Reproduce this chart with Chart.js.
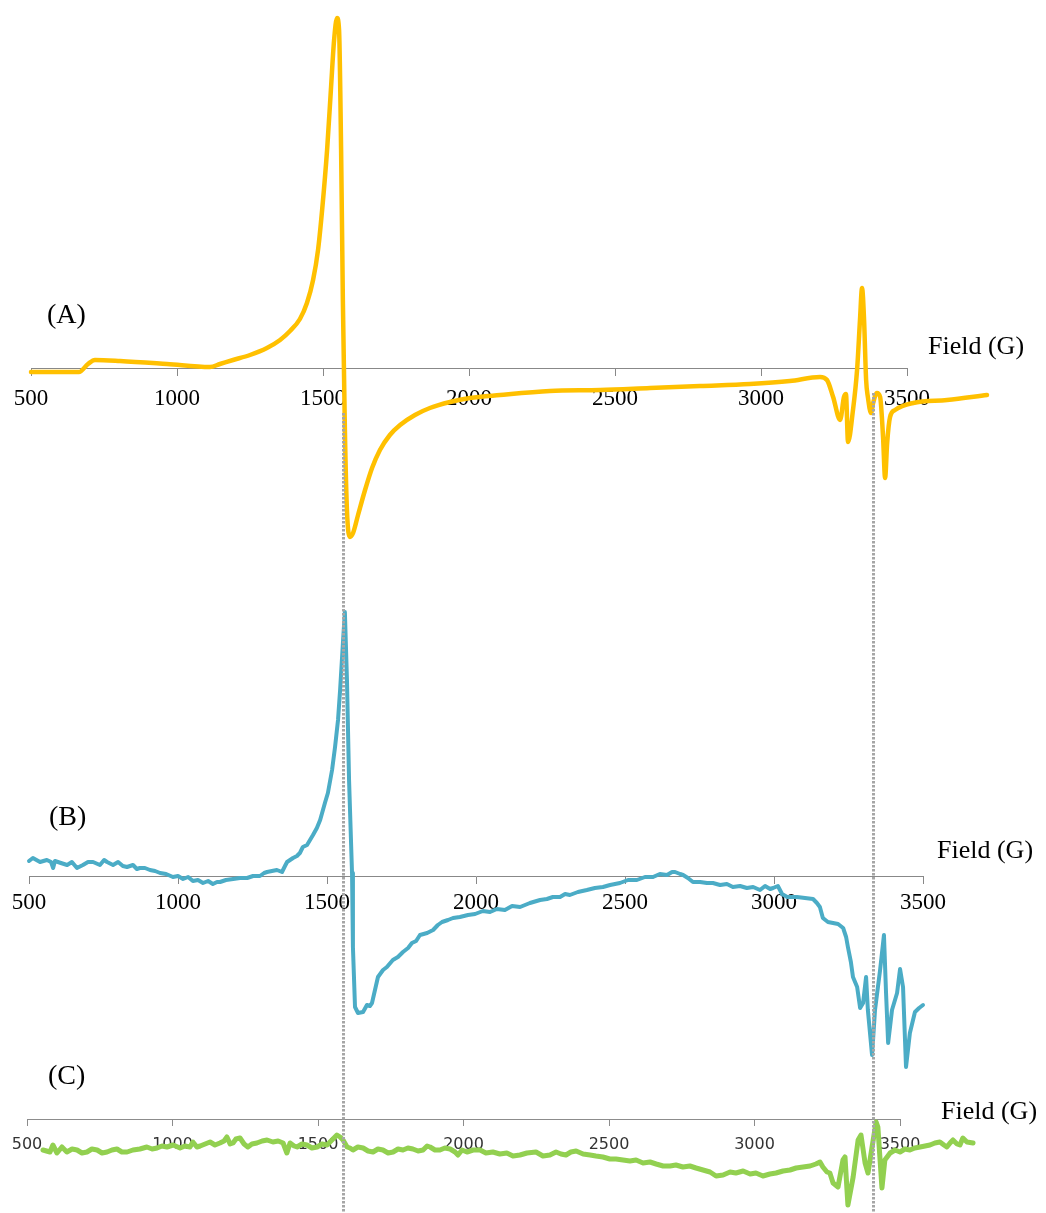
<!DOCTYPE html>
<html>
<head>
<meta charset="utf-8">
<title>EPR spectra A, B, C</title>
<script src="https://cdn.jsdelivr.net/npm/chart.js@4.4.0/dist/chart.umd.min.js"></script>
<style>
  body { margin: 0; background: #ffffff; }
  #wrap { position: relative; width: 1046px; height: 1213px; }
  #wrap canvas { position: absolute; left: 0; top: 0; }
</style>
</head>
<body>
<div id="wrap">
  <canvas id="chartA" width="1046" height="1213"></canvas>
  <canvas id="chartB" width="1046" height="1213"></canvas>
  <canvas id="chartC" width="1046" height="1213"></canvas>
</div>
<script>
// Field axis ticks (G), shared by the three spectra
const fieldTicks = [500, 1000, 1500, 2000, 2500, 3000, 3500];
const panelLabels = ["(A)", "(B)", "(C)"];
const axisTitle = "Field (G)";
// dotted guide lines, field values read on the (C) axis
const guideFields = [1586, 3407];

// Spectrum A (yellow)
const fieldA = [500, 664, 695, 719, 805, 966, 1113, 1147, 1192, 1250,
  1308, 1353, 1387, 1421, 1445, 1466, 1483, 1497, 1514, 1527,
  1538, 1548, 1555, 1562, 1568, 1575, 1582, 1592, 1603, 1620,
  1644, 1668, 1695, 1729, 1764, 1815, 1866, 1935, 2003, 2106,
  2277, 2449, 2620, 2791, 2962, 3099, 3202, 3226, 3247, 3271,
  3284, 3291, 3298, 3315, 3329, 3339, 3346, 3353, 3360, 3366,
  3377, 3384, 3397, 3408, 3418, 3425, 3432, 3442, 3459, 3521,
  3637, 3774];
const signalA = [-3, -3, 5, 9, 8, 5, 2, 5, 9, 14,
  21, 29, 38, 50, 66, 89, 119, 159, 219, 279,
  329, 351, 339, 219, 69, -61, -141, -168, -164, -146,
  -121, -99, -81, -66, -56, -46, -39, -33, -29, -26,
  -22, -21, -19, -17, -15, -12, -8, -11, -28, -51,
  -28, -25, -73, -41, -1, 49, 81, 49, -11, -28,
  -44, -34, -24, -28, -68, -109, -74, -48, -41, -34,
  -31, -26];

// Spectrum B (blue)
const fieldB = [500, 513, 537, 560, 574, 581, 587, 607, 628, 644,
  661, 681, 698, 715, 738, 752, 762, 782, 799, 815,
  829, 849, 862, 872, 889, 906, 923, 940, 960, 983,
  1000, 1017, 1034, 1050, 1067, 1084, 1101, 1117, 1131, 1141,
  1161, 1185, 1208, 1232, 1252, 1275, 1289, 1299, 1315, 1332,
  1349, 1359, 1366, 1376, 1386, 1399, 1409, 1419, 1433, 1443,
  1453, 1466, 1477, 1493, 1503, 1517, 1527, 1537, 1544, 1554,
  1560, 1567, 1574, 1584, 1587, 1594, 1604, 1621, 1634, 1644,
  1651, 1661, 1671, 1688, 1701, 1721, 1738, 1755, 1772, 1785,
  1799, 1812, 1836, 1856, 1872, 1886, 1906, 1923, 1946, 1973,
  1997, 2023, 2047, 2070, 2097, 2121, 2148, 2181, 2215, 2238,
  2258, 2282, 2299, 2315, 2342, 2372, 2399, 2426, 2450, 2483,
  2510, 2540, 2567, 2594, 2617, 2641, 2658, 2668, 2685, 2695,
  2711, 2728, 2752, 2775, 2795, 2819, 2842, 2862, 2886, 2909,
  2930, 2953, 2970, 2987, 2997, 3013, 3027, 3044, 3077, 3104,
  3131, 3144, 3154, 3164, 3181, 3198, 3215, 3232, 3242, 3248,
  3258, 3265, 3279, 3289, 3299, 3309, 3315, 3329, 3339, 3356,
  3369, 3376, 3383, 3396, 3413, 3423, 3433, 3443, 3456, 3473,
  3487, 3500];
const signalB = [15, 18, 14, 16, 14, 8, 15, 13, 11, 14,
  8, 11, 14, 14, 11, 16, 14, 11, 14, 10,
  9, 11, 7, 8, 8, 6, 5, 3, 2, -1,
  0, -3, -1, -5, -4, -7, -5, -8, -6, -6,
  -4, -3, -2, -2, 0, 0, 3, 4, 5, 6,
  4, 10, 14, 16, 18, 20, 23, 29, 31, 36,
  41, 48, 56, 73, 83, 106, 129, 156, 186, 236,
  264, 196, 96, 3, -71, -131, -137, -136, -129, -130,
  -127, -114, -101, -94, -91, -84, -81, -76, -72, -67,
  -65, -59, -57, -54, -49, -46, -44, -42, -41, -39,
  -38, -35, -36, -33, -34, -30, -31, -27, -24, -23,
  -21, -21, -18, -19, -16, -14, -12, -11, -9, -7,
  -4, -4, -1, -1, 2, 1, 4, 4, 2, 1,
  -2, -6, -6, -7, -7, -9, -8, -11, -10, -12,
  -11, -14, -10, -13, -12, -10, -18, -21, -21, -22,
  -23, -27, -31, -42, -46, -47, -48, -52, -61, -71,
  -86, -101, -111, -132, -127, -101, -134, -179, -134, -94,
  -59, -117, -167, -134, -117, -93, -111, -191, -157, -136,
  -132, -129];

// Spectrum C (green)
const fieldC = [555, 579, 589, 603, 620, 637, 655, 672, 689, 706,
  723, 741, 758, 775, 792, 809, 826, 844, 864, 888,
  912, 930, 947, 964, 981, 1002, 1026, 1043, 1060, 1070,
  1084, 1095, 1112, 1129, 1146, 1163, 1177, 1187, 1198, 1208,
  1218, 1232, 1246, 1259, 1273, 1290, 1308, 1325, 1345, 1363,
  1380, 1393, 1404, 1418, 1428, 1445, 1462, 1479, 1497, 1514,
  1531, 1548, 1565, 1576, 1586, 1600, 1610, 1620, 1637, 1655,
  1672, 1689, 1706, 1723, 1741, 1758, 1775, 1792, 1809, 1826,
  1844, 1861, 1875, 1885, 1902, 1919, 1936, 1954, 1971, 1981,
  1995, 2012, 2033, 2057, 2077, 2101, 2125, 2149, 2170, 2194,
  2218, 2249, 2273, 2297, 2318, 2335, 2352, 2369, 2387, 2411,
  2435, 2455, 2479, 2503, 2524, 2548, 2572, 2593, 2617, 2641,
  2662, 2686, 2710, 2730, 2754, 2778, 2799, 2823, 2847, 2868,
  2892, 2916, 2936, 2961, 2985, 3005, 3029, 3053, 3074, 3098,
  3122, 3143, 3167, 3191, 3211, 3225, 3235, 3249, 3259, 3270,
  3287, 3304, 3311, 3321, 3339, 3356, 3366, 3380, 3390, 3404,
  3418, 3424, 3438, 3448, 3466, 3483, 3500, 3517, 3534, 3551,
  3569, 3586, 3603, 3620, 3637, 3651, 3661, 3672, 3682, 3696,
  3706, 3716, 3730, 3751];
const signalC = [-31, -33, -26, -34, -28, -33, -30, -31, -34, -33,
  -30, -31, -34, -33, -31, -30, -33, -33, -31, -30,
  -28, -30, -29, -27, -28, -26, -29, -27, -28, -23,
  -28, -27, -25, -23, -26, -24, -22, -18, -25, -24,
  -20, -19, -25, -28, -25, -24, -22, -21, -23, -22,
  -24, -34, -24, -27, -28, -25, -26, -29, -28, -25,
  -26, -21, -16, -18, -21, -28, -29, -31, -28, -29,
  -32, -33, -30, -31, -34, -33, -30, -31, -29, -30,
  -32, -31, -27, -28, -31, -31, -29, -30, -33, -36,
  -31, -33, -31, -31, -34, -33, -35, -34, -37, -36,
  -34, -33, -37, -36, -33, -35, -36, -33, -32, -35,
  -36, -37, -38, -40, -40, -41, -42, -41, -44, -43,
  -45, -47, -47, -46, -48, -47, -49, -51, -53, -57,
  -56, -53, -54, -52, -55, -54, -57, -55, -54, -52,
  -51, -49, -48, -47, -45, -43, -48, -53, -54, -64,
  -68, -41, -38, -86, -58, -21, -16, -44, -54, -28,
  -3, -8, -69, -41, -34, -31, -33, -30, -31, -29,
  -28, -27, -26, -24, -23, -26, -28, -24, -21, -25,
  -26, -19, -23, -24];

const PAGE_W = 1046;
const PAGE_H = 1213;

function textPlugin(items) {
  return {
    id: "panelText",
    afterDraw(chart) {
      const ctx = chart.ctx;
      ctx.save();
      ctx.fillStyle = "#000000";
      ctx.textBaseline = "middle";
      ctx.textAlign = "left";
      items.forEach((t) => {
        ctx.font = t.font;
        ctx.fillText(t.text, t.x, t.y);
      });
      ctx.restore();
    },
  };
}

function makePanel(id, field, signal, cfg) {
  const n = Math.min(field.length, signal.length);
  const points = [];
  for (let i = 0; i < n; i++) points.push({ x: field[i], y: signal[i] });

  return new Chart(document.getElementById(id), {
    type: "line",
    data: {
      datasets: [
        {
          data: points,
          borderColor: cfg.color,
          borderWidth: cfg.lineWidth,
          pointRadius: 0,
          tension: cfg.smooth ? 0.3 : 0,
          cubicInterpolationMode: cfg.smooth ? "monotone" : "default",
          borderJoinStyle: "round",
          borderCapStyle: "round",
          clip: false,
          fill: false,
        },
      ],
    },
    options: {
      responsive: false,
      animation: false,
      events: [],
      layout: {
        padding: { left: cfg.left, right: PAGE_W - cfg.right, top: 0, bottom: 0 },
      },
      plugins: {
        legend: { display: false },
        tooltip: { enabled: false },
      },
      scales: {
        x: {
          type: "linear",
          position: { y: 0 },
          z: 1,
          afterDataLimits: (s) => {
            s.min = fieldTicks[0];
            s.max = fieldTicks[fieldTicks.length - 1];
          },
          afterBuildTicks: (s) => {
            s.ticks = fieldTicks.map((v) => ({ value: v }));
          },
          // labels may overhang the plot edges, as in the original figure
          afterFit: (s) => {
            s.paddingLeft = 0;
            s.paddingRight = 0;
          },
          grid: {
            drawOnChartArea: false,
            drawTicks: true,
            tickLength: cfg.tickLength,
            color: cfg.axisColor,
            lineWidth: 1,
          },
          border: { display: true, color: cfg.axisColor, width: 1 },
          ticks: {
            autoSkip: false,
            maxRotation: 0,
            minRotation: 0,
            padding: cfg.labelPad,
            crossAlign: "center",
            color: cfg.labelColor,
            font: cfg.labelFont,
            callback: (v) => String(v),
          },
        },
        y: {
          display: false,
          min: cfg.axisY - PAGE_H,
          max: cfg.axisY,
        },
      },
    },
    plugins: [textPlugin(cfg.texts)].concat(cfg.extraPlugins || []),
  });
}

const serif = "'Liberation Serif', 'Times New Roman', serif";

makePanel("chartA", fieldA, signalA, {
  left: 31, right: 907, axisY: 369,
  color: "#FFC000", lineWidth: 4.5, smooth: true,
  tickLength: 7, labelPad: 23, axisColor: "#888888",
  labelColor: "#000000", labelFont: { family: serif, size: 23 },
  texts: [
    { text: panelLabels[0], x: 47, y: 316, font: "28px " + serif },
    { text: axisTitle, x: 928, y: 347, font: "26px " + serif },
  ],
});

makePanel("chartB", fieldB, signalB, {
  left: 29, right: 923, axisY: 876,
  color: "#4BACC6", lineWidth: 4, smooth: false,
  tickLength: 7, labelPad: 20, axisColor: "#888888",
  labelColor: "#000000", labelFont: { family: serif, size: 23 },
  texts: [
    { text: panelLabels[1], x: 49, y: 818, font: "28px " + serif },
    { text: axisTitle, x: 937, y: 851, font: "26px " + serif },
  ],
});

// dotted guide lines across the spectra, drawn on the top panel canvas
const guidePlugin = {
  id: "guides",
  afterDraw(chart) {
    const ctx = chart.ctx;
    const x = chart.scales.x;
    const starts = [413, 393];
    ctx.save();
    ctx.strokeStyle = "#a6a6a6";
    ctx.lineWidth = 3;
    ctx.setLineDash([2.5, 1.5]);
    guideFields.forEach((f, i) => {
      const px = Math.round(x.getPixelForValue(f)) + 0.5;
      ctx.beginPath();
      ctx.moveTo(px, starts[i]);
      ctx.lineTo(px, PAGE_H);
      ctx.stroke();
    });
    ctx.restore();
  },
};

makePanel("chartC", fieldC, signalC, {
  left: 27, right: 900, axisY: 1119,
  color: "#92D050", lineWidth: 5, smooth: false,
  tickLength: 6, labelPad: 20, axisColor: "#8c8c8c",
  labelColor: "#333333", labelFont: { family: "'DejaVu Sans', Verdana, sans-serif", size: 16 },
  texts: [
    { text: panelLabels[2], x: 48, y: 1077, font: "28px " + serif },
    { text: axisTitle, x: 941, y: 1112, font: "26px " + serif },
  ],
  extraPlugins: [guidePlugin],
});
</script>
</body>
</html>
